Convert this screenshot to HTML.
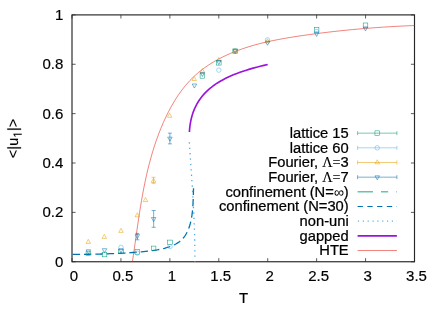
<!DOCTYPE html>
<html><head><meta charset="utf-8"><title>plot</title>
<style>
html,body{margin:0;padding:0;background:#fff;}
body{width:441px;height:309px;overflow:hidden;}
svg{display:block;will-change:transform;}
svg text{font-family:"Liberation Sans",sans-serif;fill:#000;stroke:#000;stroke-width:0.24px;}
svg text.tk{stroke-width:0.18px;}
</style></head><body>
<svg width="441" height="309" viewBox="0 0 441 309">
<rect width="441" height="309" fill="#fff"/>
<path d="M72 261.75 v-3.6 M72 14.9 v3.6" stroke="#333" stroke-width="0.8" fill="none"/>
<path d="M120.93 261.75 v-3.6 M120.93 14.9 v3.6" stroke="#333" stroke-width="0.8" fill="none"/>
<path d="M169.86 261.75 v-3.6 M169.86 14.9 v3.6" stroke="#333" stroke-width="0.8" fill="none"/>
<path d="M218.79 261.75 v-3.6 M218.79 14.9 v3.6" stroke="#333" stroke-width="0.8" fill="none"/>
<path d="M267.71 261.75 v-3.6 M267.71 14.9 v3.6" stroke="#333" stroke-width="0.8" fill="none"/>
<path d="M316.64 261.75 v-3.6 M316.64 14.9 v3.6" stroke="#333" stroke-width="0.8" fill="none"/>
<path d="M365.57 261.75 v-3.6 M365.57 14.9 v3.6" stroke="#333" stroke-width="0.8" fill="none"/>
<path d="M414.5 261.75 v-3.6 M414.5 14.9 v3.6" stroke="#333" stroke-width="0.8" fill="none"/>
<path d="M72 261.75 h3.6 M414.5 261.75 h-3.6" stroke="#333" stroke-width="0.8" fill="none"/>
<path d="M72 212.38 h3.6 M414.5 212.38 h-3.6" stroke="#333" stroke-width="0.8" fill="none"/>
<path d="M72 163.01 h3.6 M414.5 163.01 h-3.6" stroke="#333" stroke-width="0.8" fill="none"/>
<path d="M72 113.64 h3.6 M414.5 113.64 h-3.6" stroke="#333" stroke-width="0.8" fill="none"/>
<path d="M72 64.27 h3.6 M414.5 64.27 h-3.6" stroke="#333" stroke-width="0.8" fill="none"/>
<path d="M72 14.9 h3.6 M414.5 14.9 h-3.6" stroke="#333" stroke-width="0.8" fill="none"/>
<rect x="72" y="14.9" width="342.5" height="246.85" fill="none" stroke="#262626" stroke-width="1.15"/>
<text class="tk" x="74" y="281.35" text-anchor="middle" font-size="15.0">0</text>
<text class="tk" x="122.93" y="281.35" text-anchor="middle" font-size="15.0">0.5</text>
<text class="tk" x="171.86" y="281.35" text-anchor="middle" font-size="15.0">1</text>
<text class="tk" x="220.79" y="281.35" text-anchor="middle" font-size="15.0">1.5</text>
<text class="tk" x="269.71" y="281.35" text-anchor="middle" font-size="15.0">2</text>
<text class="tk" x="318.64" y="281.35" text-anchor="middle" font-size="15.0">2.5</text>
<text class="tk" x="367.57" y="281.35" text-anchor="middle" font-size="15.0">3</text>
<text class="tk" x="416.5" y="281.35" text-anchor="middle" font-size="15.0">3.5</text>
<text class="tk" x="63.3" y="266.75" text-anchor="end" font-size="15.0">0</text>
<text class="tk" x="63.3" y="217.38" text-anchor="end" font-size="15.0">0.2</text>
<text class="tk" x="63.3" y="168.01" text-anchor="end" font-size="15.0">0.4</text>
<text class="tk" x="63.3" y="118.64" text-anchor="end" font-size="15.0">0.6</text>
<text class="tk" x="63.3" y="69.27" text-anchor="end" font-size="15.0">0.8</text>
<text class="tk" x="63.3" y="19.9" text-anchor="end" font-size="15.0">1</text>
<text class="tk" x="243.6" y="302.7" text-anchor="middle" font-size="15.0">T</text>
<path transform="translate(17.95,158.33) rotate(-90)" d="M0.73 -4.11V-5.59L7.89 -8.6V-7.49L1.71 -4.85L7.89 -2.21V-1.11Z M9.93 3.13V-10.69H11.13V3.13Z M14.71 -7.79V-2.85Q14.71 -2.08 14.86 -1.66Q15.01 -1.23 15.34 -1.04Q15.67 -0.86 16.31 -0.86Q17.25 -0.86 17.79 -1.5Q18.33 -2.14 18.33 -3.28V-7.79H19.63V-1.66Q19.63 -0.3 19.67 0H18.44Q18.44 -0.04 18.43 -0.19Q18.42 -0.35 18.41 -0.56Q18.4 -0.76 18.39 -1.33H18.37Q17.92 -0.53 17.33 -0.19Q16.74 0.14 15.87 0.14Q14.59 0.14 14 -0.49Q13.4 -1.13 13.4 -2.6V-7.79Z M23.7 3.75 L23.7 -3.38 L21.78 -2.07 L21.78 -3.05 L23.7 -4.37 L24.66 -4.37 L24.66 3.75Z M28.53 3.13V-10.69H29.72V3.13Z M31.77 -1.11V-2.21L37.95 -4.85L31.77 -7.49V-8.6L38.94 -5.59V-4.11Z" fill="#000" stroke="#000" stroke-width="0.12"/>
<path d="M71.97 254.44 L74.1 254.42 L76.23 254.4 L78.35 254.38 L80.47 254.35 L82.58 254.33 L84.7 254.3 L86.81 254.27 L88.92 254.24 L91.03 254.2 L93.13 254.17 L95.24 254.13 L97.34 254.08 L99.44 254.03 L101.54 253.98 L103.64 253.92 L105.73 253.86 L107.83 253.79 L109.93 253.72 L112.02 253.64 L114.12 253.56 L116.21 253.47 L118.31 253.37 L120.41 253.26 L122.5 253.15 L124.6 253.03 L126.7 252.91 L128.79 252.77 L130.89 252.63 L132.99 252.48 L135.1 252.32 L137.2 252.15 L139.3 251.97 L141.41 251.79 L143.52 251.59 L145.63 251.38 L147.74 251.16 L149.86 250.92 L151.97 250.66 L154.07 250.37 L156.17 250.05 L158.26 249.69 L160.35 249.28 L162.42 248.82 L164.47 248.31 L166.51 247.74 L168.53 247.1 L170.53 246.39 L172.51 245.6 L174.43 244.73 L176.29 243.75 L178.06 242.68 L179.74 241.48 L181.29 240.17 L182.71 238.73 L184.02 237.17 L185.2 235.51 L186.27 233.75 L187.24 231.91 L188.1 230 L188.88 228.02 L189.57 226 L190.17 223.93 L190.7 221.83 L191.16 219.71 L191.56 217.58 L191.9 215.46 L192.19 213.34 L192.44 211.23 L192.64 209.14 L192.81 207.05 L192.94 204.96 L193.06 202.88 L193.15 200.8 L193.22 198.72 L193.29 196.63 L193.35 194.54 L193.41 192.44 L193.47 190.34 L193.55 188.22" fill="none" stroke="#0072B2" stroke-width="1.3" stroke-dasharray="7.4 3.95" stroke-dashoffset="10.65"/>
<path d="M189.34 142.3 L189.6 146.42 L189.87 150.53 L190.14 154.64 L190.42 158.76 L190.69 162.87 L190.97 166.98 L191.24 171.1 L191.52 175.21 L191.79 179.33 L192.05 183.44 L192.31 187.55 L192.57 191.67 L192.82 195.78 L193.06 199.9 L193.29 204.01 L193.5 208.13 L193.71 212.25 L193.9 216.36 L194.08 220.48 L194.25 224.6 L194.4 228.72 L194.53 232.84 L194.64 236.96 L194.73 241.08 L194.8 245.2 L194.85 249.33 L194.88 253.45 L194.88 257.58 L194.85 261.7" fill="none" stroke="#48A8E4" stroke-width="1.25" stroke-dasharray="1.3 4.1"/>
<path d="M189.39 131.99 L189.61 129.03 L189.92 126.16 L190.33 123.38 L190.83 120.67 L191.43 118.04 L192.12 115.49 L192.9 113.02 L193.78 110.62 L194.75 108.29 L195.82 106.03 L196.98 103.85 L198.23 101.73 L199.58 99.68 L201.02 97.69 L202.56 95.76 L204.19 93.9 L205.92 92.1 L207.74 90.35 L209.65 88.67 L211.66 87.04 L213.76 85.46 L215.96 83.93 L218.25 82.46 L220.64 81.03 L223.12 79.66 L225.69 78.33 L228.36 77.04 L231.12 75.8 L233.97 74.59 L236.92 73.43 L239.97 72.31 L243.11 71.22 L246.34 70.17 L249.67 69.15 L253.09 68.16 L256.6 67.21 L260.21 66.28 L263.92 65.38 L267.71 64.51" fill="none" stroke="#9A14DB" stroke-width="1.65" stroke-linecap="butt" stroke-linejoin="round"/>
<path d="M132.45 261.71 L133.34 255.59 L134.22 249.46 L135.09 243.32 L135.95 237.16 L136.83 231 L137.71 224.84 L138.63 218.68 L139.57 212.51 L140.56 206.36 L141.59 200.21 L142.68 194.08 L143.84 187.96 L145.07 181.86 L146.39 175.78 L147.79 169.73 L149.3 163.71 L150.91 157.72 L152.64 151.76 L154.49 145.85 L156.48 139.97 L158.6 134.14 L160.88 128.35 L163.31 122.62 L165.92 116.94 L168.69 111.33 L171.66 105.82 L174.83 100.43 L178.21 95.18 L181.83 90.12 L185.68 85.25 L189.79 80.62 L194.17 76.25 L198.82 72.16 L203.73 68.36 L208.85 64.83 L214.15 61.57 L219.59 58.56 L225.13 55.8 L230.78 53.27 L236.51 50.95 L242.33 48.83 L248.22 46.89 L254.17 45.13 L260.18 43.53 L266.24 42.06 L272.34 40.73 L278.47 39.5 L284.63 38.38 L290.8 37.34 L296.98 36.37 L303.16 35.46 L309.33 34.59 L315.5 33.76 L321.66 32.97 L327.82 32.22 L333.98 31.51 L340.13 30.83 L346.29 30.19 L352.45 29.59 L358.62 29.03 L364.79 28.5 L370.97 28.01 L377.15 27.55 L383.35 27.13 L389.57 26.74 L395.79 26.38 L402.04 26.06 L408.3 25.77 L414.57 25.51" fill="none" stroke="#E51E10" stroke-width="0.55" stroke-linejoin="round"/>
<rect x="86.1" y="251.1" width="4.6" height="4.6" fill="none" stroke="#009E73" stroke-width="0.52"/><rect x="88.05" y="253.05" width="0.7" height="0.7" fill="#009E73" fill-opacity="0.15"/>
<rect x="102.2" y="252.2" width="4.6" height="4.6" fill="none" stroke="#009E73" stroke-width="0.52"/><rect x="104.15" y="254.15" width="0.7" height="0.7" fill="#009E73" fill-opacity="0.15"/>
<rect x="118.7" y="249.2" width="4.6" height="4.6" fill="none" stroke="#009E73" stroke-width="0.52"/><rect x="120.65" y="251.15" width="0.7" height="0.7" fill="#009E73" fill-opacity="0.15"/>
<rect x="135" y="249.6" width="4.6" height="4.6" fill="none" stroke="#009E73" stroke-width="0.52"/><rect x="136.95" y="251.55" width="0.7" height="0.7" fill="#009E73" fill-opacity="0.15"/>
<rect x="151.3" y="246.1" width="4.6" height="4.6" fill="none" stroke="#009E73" stroke-width="0.52"/><rect x="153.25" y="248.05" width="0.7" height="0.7" fill="#009E73" fill-opacity="0.15"/>
<rect x="167.7" y="240.1" width="4.6" height="4.6" fill="none" stroke="#009E73" stroke-width="0.52"/><rect x="169.65" y="242.05" width="0.7" height="0.7" fill="#009E73" fill-opacity="0.15"/>
<rect x="200.1" y="73.6" width="4.6" height="4.6" fill="none" stroke="#009E73" stroke-width="0.52"/><rect x="202.05" y="75.55" width="0.7" height="0.7" fill="#009E73" fill-opacity="0.15"/>
<rect x="216.5" y="60.5" width="4.6" height="4.6" fill="none" stroke="#009E73" stroke-width="0.52"/><rect x="218.45" y="62.45" width="0.7" height="0.7" fill="#009E73" fill-opacity="0.15"/>
<rect x="232.9" y="48.9" width="4.6" height="4.6" fill="none" stroke="#009E73" stroke-width="0.52"/><rect x="234.85" y="50.85" width="0.7" height="0.7" fill="#009E73" fill-opacity="0.15"/>
<rect x="314.3" y="27.4" width="4.6" height="4.6" fill="none" stroke="#009E73" stroke-width="0.52"/><rect x="316.25" y="29.35" width="0.7" height="0.7" fill="#009E73" fill-opacity="0.15"/>
<rect x="363.2" y="23" width="4.6" height="4.6" fill="none" stroke="#009E73" stroke-width="0.52"/><rect x="365.15" y="24.95" width="0.7" height="0.7" fill="#009E73" fill-opacity="0.15"/>
<circle cx="121" cy="247.3" r="2.25" fill="none" stroke="#56B4E9" stroke-width="0.52"/><rect x="120.65" y="246.95" width="0.7" height="0.7" fill="#56B4E9" fill-opacity="0.15"/>
<circle cx="137.3" cy="253.1" r="2.25" fill="none" stroke="#56B4E9" stroke-width="0.52"/><rect x="136.95" y="252.75" width="0.7" height="0.7" fill="#56B4E9" fill-opacity="0.15"/>
<circle cx="170" cy="246.5" r="2.25" fill="none" stroke="#56B4E9" stroke-width="0.52"/><rect x="169.65" y="246.15" width="0.7" height="0.7" fill="#56B4E9" fill-opacity="0.15"/>
<circle cx="218.8" cy="70.1" r="2.25" fill="none" stroke="#56B4E9" stroke-width="0.52"/><rect x="218.45" y="69.75" width="0.7" height="0.7" fill="#56B4E9" fill-opacity="0.15"/>
<circle cx="235.2" cy="51.2" r="2.25" fill="none" stroke="#56B4E9" stroke-width="0.52"/><rect x="234.85" y="50.85" width="0.7" height="0.7" fill="#56B4E9" fill-opacity="0.15"/>
<circle cx="267.5" cy="39.9" r="2.25" fill="none" stroke="#56B4E9" stroke-width="0.52"/><rect x="267.15" y="39.55" width="0.7" height="0.7" fill="#56B4E9" fill-opacity="0.15"/>
<circle cx="316.6" cy="31.5" r="2.25" fill="none" stroke="#56B4E9" stroke-width="0.52"/><rect x="316.25" y="31.15" width="0.7" height="0.7" fill="#56B4E9" fill-opacity="0.15"/>
<path d="M153.5 177.3 V183.3 M151.5 177.3 h4 M151.5 183.3 h4" fill="none" stroke="#E69F00" stroke-width="0.55"/>
<path d="M88.3 239.35 L86.05 243.4 L90.55 243.4 Z" fill="none" stroke="#E69F00" stroke-width="0.52"/><rect x="87.95" y="241.7" width="0.7" height="0.7" fill="#E69F00" fill-opacity="0.15"/>
<path d="M104.3 234.35 L102.05 238.4 L106.55 238.4 Z" fill="none" stroke="#E69F00" stroke-width="0.52"/><rect x="103.95" y="236.7" width="0.7" height="0.7" fill="#E69F00" fill-opacity="0.15"/>
<path d="M121 228.35 L118.75 232.4 L123.25 232.4 Z" fill="none" stroke="#E69F00" stroke-width="0.52"/><rect x="120.65" y="230.7" width="0.7" height="0.7" fill="#E69F00" fill-opacity="0.15"/>
<path d="M137.3 212.75 L135.05 216.8 L139.55 216.8 Z" fill="none" stroke="#E69F00" stroke-width="0.52"/><rect x="136.95" y="215.1" width="0.7" height="0.7" fill="#E69F00" fill-opacity="0.15"/>
<path d="M145.5 197.55 L143.25 201.6 L147.75 201.6 Z" fill="none" stroke="#E69F00" stroke-width="0.52"/><rect x="145.15" y="199.9" width="0.7" height="0.7" fill="#E69F00" fill-opacity="0.15"/>
<path d="M153.5 178.25 L151.25 182.3 L155.75 182.3 Z" fill="none" stroke="#E69F00" stroke-width="0.52"/><rect x="153.15" y="180.6" width="0.7" height="0.7" fill="#E69F00" fill-opacity="0.15"/>
<path d="M169.6 113.25 L167.35 117.3 L171.85 117.3 Z" fill="none" stroke="#E69F00" stroke-width="0.52"/><rect x="169.25" y="115.6" width="0.7" height="0.7" fill="#E69F00" fill-opacity="0.15"/>
<path d="M194.2 76.45 L191.95 80.5 L196.45 80.5 Z" fill="none" stroke="#E69F00" stroke-width="0.52"/><rect x="193.85" y="78.8" width="0.7" height="0.7" fill="#E69F00" fill-opacity="0.15"/>
<path d="M202.4 68.55 L200.15 72.6 L204.65 72.6 Z" fill="none" stroke="#E69F00" stroke-width="0.52"/><rect x="202.05" y="70.9" width="0.7" height="0.7" fill="#E69F00" fill-opacity="0.15"/>
<path d="M218.8 57.45 L216.55 61.5 L221.05 61.5 Z" fill="none" stroke="#E69F00" stroke-width="0.52"/><rect x="218.45" y="59.8" width="0.7" height="0.7" fill="#E69F00" fill-opacity="0.15"/>
<path d="M235.2 48.45 L232.95 52.5 L237.45 52.5 Z" fill="none" stroke="#E69F00" stroke-width="0.52"/><rect x="234.85" y="50.8" width="0.7" height="0.7" fill="#E69F00" fill-opacity="0.15"/>
<path d="M267.5 38.75 L265.25 42.8 L269.75 42.8 Z" fill="none" stroke="#E69F00" stroke-width="0.52"/><rect x="267.15" y="41.1" width="0.7" height="0.7" fill="#E69F00" fill-opacity="0.15"/>
<path d="M88.4 253.85 L86.15 249.8 L90.65 249.8 Z" fill="none" stroke="#0072B2" stroke-width="0.52"/><rect x="88.05" y="250.8" width="0.7" height="0.7" fill="#0072B2" fill-opacity="0.15"/>
<path d="M104.5 252.75 L102.25 248.7 L106.75 248.7 Z" fill="none" stroke="#0072B2" stroke-width="0.52"/><rect x="104.15" y="249.7" width="0.7" height="0.7" fill="#0072B2" fill-opacity="0.15"/>
<path d="M121 252.85 L118.75 248.8 L123.25 248.8 Z" fill="none" stroke="#0072B2" stroke-width="0.52"/><rect x="120.65" y="249.8" width="0.7" height="0.7" fill="#0072B2" fill-opacity="0.15"/>
<path d="M137.3 233.4 V239.8 M135.3 233.4 h4 M135.3 239.8 h4" fill="none" stroke="#0072B2" stroke-width="0.55"/>
<path d="M137.3 238.65 L135.05 234.6 L139.55 234.6 Z" fill="none" stroke="#0072B2" stroke-width="0.52"/><rect x="136.95" y="235.6" width="0.7" height="0.7" fill="#0072B2" fill-opacity="0.15"/>
<path d="M153.65 210.5 V227.3 M151.65 210.5 h4 M151.65 227.3 h4" fill="none" stroke="#0072B2" stroke-width="0.55"/>
<path d="M153.65 221.6 L151.4 217.55 L155.9 217.55 Z" fill="none" stroke="#0072B2" stroke-width="0.52"/><rect x="153.3" y="218.55" width="0.7" height="0.7" fill="#0072B2" fill-opacity="0.15"/>
<path d="M169.9 133.15 V143.85 M167.9 133.15 h4 M167.9 143.85 h4" fill="none" stroke="#0072B2" stroke-width="0.55"/>
<path d="M169.9 141.2 L167.65 137.15 L172.15 137.15 Z" fill="none" stroke="#0072B2" stroke-width="0.52"/><rect x="169.55" y="138.15" width="0.7" height="0.7" fill="#0072B2" fill-opacity="0.15"/>
<path d="M194.4 88.05 L192.15 84 L196.65 84 Z" fill="none" stroke="#0072B2" stroke-width="0.52"/><rect x="194.05" y="85" width="0.7" height="0.7" fill="#0072B2" fill-opacity="0.15"/>
<path d="M202.4 76.45 L200.15 72.4 L204.65 72.4 Z" fill="none" stroke="#0072B2" stroke-width="0.52"/><rect x="202.05" y="73.4" width="0.7" height="0.7" fill="#0072B2" fill-opacity="0.15"/>
<path d="M218.8 64.65 L216.55 60.6 L221.05 60.6 Z" fill="none" stroke="#0072B2" stroke-width="0.52"/><rect x="218.45" y="61.6" width="0.7" height="0.7" fill="#0072B2" fill-opacity="0.15"/>
<path d="M235.2 53.45 L232.95 49.4 L237.45 49.4 Z" fill="none" stroke="#0072B2" stroke-width="0.52"/><rect x="234.85" y="50.4" width="0.7" height="0.7" fill="#0072B2" fill-opacity="0.15"/>
<path d="M267.5 45.25 L265.25 41.2 L269.75 41.2 Z" fill="none" stroke="#0072B2" stroke-width="0.52"/><rect x="267.15" y="42.2" width="0.7" height="0.7" fill="#0072B2" fill-opacity="0.15"/>
<path d="M316.6 36.45 L314.35 32.4 L318.85 32.4 Z" fill="none" stroke="#0072B2" stroke-width="0.52"/><rect x="316.25" y="33.4" width="0.7" height="0.7" fill="#0072B2" fill-opacity="0.15"/>
<path d="M365.5 30.95 L363.25 26.9 L367.75 26.9 Z" fill="none" stroke="#0072B2" stroke-width="0.52"/><rect x="365.15" y="27.9" width="0.7" height="0.7" fill="#0072B2" fill-opacity="0.15"/>
<text x="348.7" y="138.05" text-anchor="end" font-size="14.72">lattice 15</text>
<text x="348.7" y="152.72" text-anchor="end" font-size="14.72">lattice 60</text>
<text x="348.7" y="167.39" text-anchor="end" font-size="14.72">Fourier, <tspan font-family="Liberation Serif" font-size="14.2" stroke-width="0.1">Λ=</tspan>3</text>
<text x="348.7" y="182.06" text-anchor="end" font-size="14.72">Fourier, <tspan font-family="Liberation Serif" font-size="14.2" stroke-width="0.1">Λ=</tspan>7</text>
<text x="348.7" y="196.73" text-anchor="end" font-size="14.72">confinement (N=<tspan font-size="14" stroke-width="0">∞</tspan>)</text>
<text x="348.7" y="211.4" text-anchor="end" font-size="14.72">confinement (N=30)</text>
<text x="348.7" y="226.07" text-anchor="end" font-size="14.72">non-uni</text>
<text x="348.7" y="240.74" text-anchor="end" font-size="14.72">gapped</text>
<text x="348.7" y="255.41" text-anchor="end" font-size="14.72">HTE</text>
<path d="M357.6 133.15 H396.9 M357.6 131.15 v4 M396.9 131.15 v4" fill="none" stroke="#009E73" stroke-width="0.55"/>
<rect x="374.95" y="130.85" width="4.6" height="4.6" fill="none" stroke="#009E73" stroke-width="0.52"/><rect x="376.9" y="132.8" width="0.7" height="0.7" fill="#009E73" fill-opacity="0.15"/>
<path d="M357.6 147.82 H396.9 M357.6 145.82 v4 M396.9 145.82 v4" fill="none" stroke="#56B4E9" stroke-width="0.55"/>
<circle cx="377.25" cy="147.82" r="2.25" fill="none" stroke="#56B4E9" stroke-width="0.52"/><rect x="376.9" y="147.47" width="0.7" height="0.7" fill="#56B4E9" fill-opacity="0.15"/>
<path d="M357.6 162.49 H396.9 M357.6 160.49 v4 M396.9 160.49 v4" fill="none" stroke="#E69F00" stroke-width="0.55"/>
<path d="M377.25 159.79 L375 163.84 L379.5 163.84 Z" fill="none" stroke="#E69F00" stroke-width="0.52"/><rect x="376.9" y="162.14" width="0.7" height="0.7" fill="#E69F00" fill-opacity="0.15"/>
<path d="M357.6 177.16 H396.9 M357.6 175.16 v4 M396.9 175.16 v4" fill="none" stroke="#0072B2" stroke-width="0.55"/>
<path d="M377.25 179.86 L375 175.81 L379.5 175.81 Z" fill="none" stroke="#0072B2" stroke-width="0.52"/><rect x="376.9" y="176.81" width="0.7" height="0.7" fill="#0072B2" fill-opacity="0.15"/>
<path d="M357.6 191.83 H396.9" stroke="#009E73" stroke-width="0.9" stroke-dasharray="15.4 8 7.2 8"/>
<path d="M357.6 206.5 H396.9" stroke="#0072B2" stroke-width="1.2" stroke-dasharray="5.3 4.45"/>
<path d="M357.9 221.17 H396.9" stroke="#56B4E9" stroke-width="1.1" stroke-dasharray="1.2 3.65"/>
<path d="M357.6 235.84 H396.9" stroke="#9A14DB" stroke-width="1.7"/>
<path d="M357.6 250.51 H396.9" stroke="#E51E10" stroke-width="0.55"/>
</svg>
</body></html>
